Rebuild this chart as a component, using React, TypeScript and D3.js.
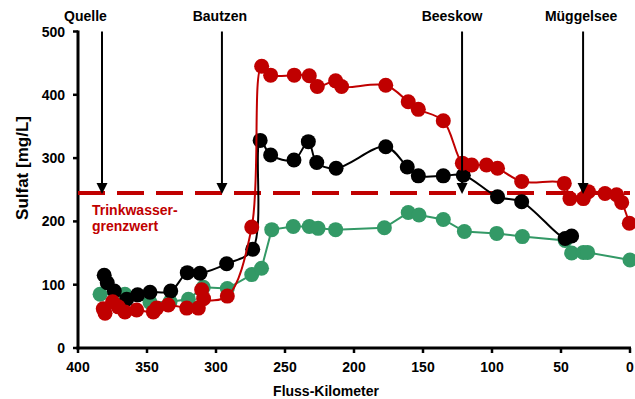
import React, { useRef, useEffect } from 'react';
import * as d3 from 'd3';

// river km (Spree), sulfate in mg/L
const RED_KM = [381.7, 380.4, 374.9, 370.8, 366, 357.5, 345.4, 343, 334.6, 321.2, 312.8, 310.4, 309, 291.8, 274.1, 266.9, 260.4, 243.3, 232.4, 226.6, 213.3, 209, 177, 160.7, 153.4, 135.3, 121.5, 114.7, 104, 96, 78.5, 47.6, 43.5, 33.8, 30.2, 18.1, 9.7, 6, 0.5];
const RED_VAL = [62, 55, 73, 65, 57, 60, 57, 63, 68, 63, 63, 92, 78, 82, 191, 445, 431, 431, 430, 413, 422, 413, 415, 389, 377, 359, 292, 289, 289, 284, 263, 260, 236, 236, 247, 244, 242, 230, 197];

const BLACK_KM = [381, 378.8, 373.7, 364.7, 356.8, 347.8, 332.8, 320.8, 311.6, 292.3, 273.4, 268, 260.4, 243.5, 233.1, 227, 213, 177, 161.4, 153.4, 135.3, 120.8, 96, 78.5, 47, 42.3];
const BLACK_VAL = [115, 103, 90, 77, 84, 88, 90, 119, 118, 133, 156, 328, 305, 297, 326, 293, 284, 318, 286, 272, 272, 273, 239, 231, 173, 177];

const GREEN_KM = [384, 366, 347.8, 333.3, 320, 309.2, 291.8, 274.1, 267, 259.6, 244, 232.4, 226, 213.3, 178, 160.7, 152.9, 135.3, 120, 96.6, 78, 47, 42.3, 33.8, 30.7, 0];
const GREEN_VAL = [85, 85, 72, 73, 77, 96, 94, 116, 126, 187, 192, 192, 189, 187, 190, 214, 210, 203, 184, 181, 176, 170, 150, 151, 151, 139];

const X_TICKS = [400, 350, 300, 250, 200, 150, 100, 50, 0];
const Y_TICKS = [0, 100, 200, 300, 400, 500];
const LIMIT = 245;
const PLACES = ['Quelle', 'Bautzen', 'Beeskow', 'Müggelsee'];
const PLACE_KM = [382.6, 295.7, 121.7, 34];

const RED = '#C00000';
const GREEN = '#339966';
const FONT = '"Liberation Sans", Arial, sans-serif';

export default function App() {
  const svgRef = useRef<SVGSVGElement>(null);

  useEffect(() => {
    if (!svgRef.current) return;
    const width = 635;
    const height = 399;
    const svg = d3.select(svgRef.current);
    svg.selectAll('*').remove();
    svg.attr('viewBox', `0 0 ${width} ${height}`);

    const x = d3.scaleLinear().domain([400, 0]).range([78, 630]);
    const y = d3.scaleLinear().domain([0, 500]).range([348, 31.5]);

    // axes
    svg.append('line').attr('x1', x(400)).attr('x2', x(400)).attr('y1', y(500) - 1).attr('y2', y(0) + 1.5).attr('stroke', '#000').attr('stroke-width', 3);
    svg.append('line').attr('x1', x(400) - 1.5).attr('x2', x(0) + 1).attr('y1', y(0)).attr('y2', y(0)).attr('stroke', '#000').attr('stroke-width', 3);
    Y_TICKS.forEach((t) => {
      svg.append('line').attr('x1', x(400) - 5).attr('x2', x(400)).attr('y1', y(t)).attr('y2', y(t)).attr('stroke', '#000').attr('stroke-width', 2.5);
      svg.append('text').attr('x', 65).attr('y', y(t)).attr('text-anchor', 'end').attr('dominant-baseline', 'central')
        .attr('font-family', FONT).attr('font-weight', 'bold').attr('font-size', '14px').attr('fill', '#000').text(t);
    });
    X_TICKS.forEach((t) => {
      svg.append('line').attr('x1', x(t)).attr('x2', x(t)).attr('y1', y(0)).attr('y2', y(0) + 5).attr('stroke', '#000').attr('stroke-width', 2.5);
      svg.append('text').attr('x', x(t)).attr('y', 372).attr('text-anchor', 'middle')
        .attr('font-family', FONT).attr('font-weight', 'bold').attr('font-size', '14px').attr('fill', '#000').text(t);
    });
    svg.append('text').attr('x', 326).attr('y', 396).attr('text-anchor', 'middle')
      .attr('font-family', FONT).attr('font-weight', 'bold').attr('font-size', '14px').attr('fill', '#000').text('Fluss-Kilometer');
    svg.append('text').attr('transform', 'rotate(-90)').attr('x', -168).attr('y', 28).attr('text-anchor', 'middle')
      .attr('font-family', FONT).attr('font-weight', 'bold').attr('font-size', '17px').attr('fill', '#000').text('Sulfat [mg/L]');

    // drinking water limit
    svg.append('line').attr('x1', x(400)).attr('x2', x(0)).attr('y1', y(LIMIT)).attr('y2', y(LIMIT))
      .attr('stroke', RED).attr('stroke-width', 4).attr('stroke-dasharray', '27,12');
    svg.append('text').attr('x', 92).attr('y', 215).attr('font-family', FONT).attr('font-weight', 'bold')
      .attr('font-size', '14px').attr('fill', RED).text('Trinkwasser-');
    svg.append('text').attr('x', 92).attr('y', 231).attr('font-family', FONT).attr('font-weight', 'bold')
      .attr('font-size', '14px').attr('fill', RED).text('grenzwert');

    // series: green below, black, red on top
    const series = [
      { km: GREEN_KM, val: GREEN_VAL, color: GREEN, curve: d3.curveLinear },
      { km: BLACK_KM, val: BLACK_VAL, color: '#000', curve: d3.curveCatmullRom.alpha(0.5) },
      { km: RED_KM, val: RED_VAL, color: RED, curve: d3.curveCatmullRom.alpha(0.5) },
    ];
    series.forEach((s) => {
      const pts = s.km.map((k, i) => [k, s.val[i]] as [number, number]);
      const line = d3.line<[number, number]>().x(d => x(d[0])).y(d => y(d[1])).curve(s.curve);
      svg.append('path').attr('d', line(pts)).attr('fill', 'none').attr('stroke', s.color).attr('stroke-width', 2);
      svg.append('g').selectAll('circle').data(pts).enter().append('circle')
        .attr('cx', d => x(d[0])).attr('cy', d => y(d[1])).attr('r', 7.5).attr('fill', s.color);
    });

    // location arrows
    PLACES.forEach((name, i) => {
      const px = x(PLACE_KM[i]);
      svg.append('line').attr('x1', px).attr('x2', px).attr('y1', 31.5).attr('y2', y(LIMIT) - 8).attr('stroke', '#000').attr('stroke-width', 2);
      svg.append('path').attr('d', `M${px - 5.5},${y(LIMIT) - 10} L${px + 5.5},${y(LIMIT) - 10} L${px},${y(LIMIT) + 1} Z`).attr('fill', '#000');
      svg.append('text').attr('x', i === 0 ? 85.5 : px - (i === 2 ? 10 : 2)).attr('y', 21).attr('text-anchor', 'middle')
        .attr('font-family', FONT).attr('font-weight', 'bold').attr('font-size', '14px').attr('fill', '#000').text(name);
    });
  }, []);

  return (
    <svg ref={svgRef} width={635} height={399} style={{ position: 'absolute', left: 0, top: 0, background: '#fff' }} />
  );
}
